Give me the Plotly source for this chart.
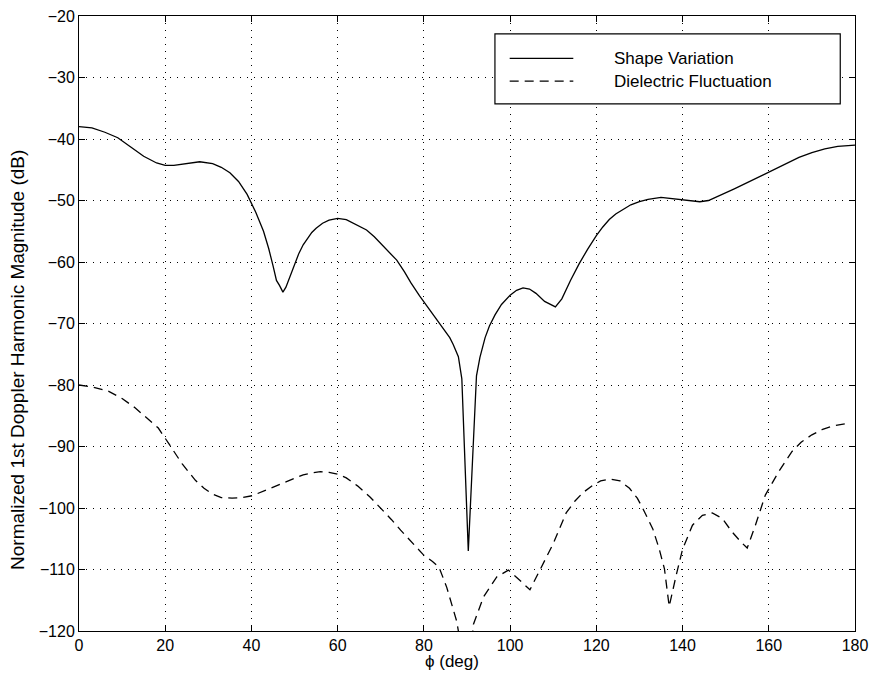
import plotly.graph_objects as go

# ---- data ----
series_names = ["Shape Variation", "Dielectric Fluctuation"]

shape_phi = [0, 3, 6, 9, 12, 15, 18, 20, 22, 25, 28, 31, 33, 35, 37, 39, 41, 42.8, 44,
             45, 45.8, 46.5, 47.3, 48, 49, 50, 51, 52, 53, 54, 55, 56.5, 58, 60, 62, 64,
             66.7, 68.5, 70, 72, 73.7, 75.5, 77, 79, 80.6, 82.5, 84.5, 86, 86.8, 88, 88.8,
             90.3, 92.2, 93, 94.2, 95.2, 96.5, 98, 100, 101.5, 103, 104.5, 106, 108, 110.5,
             112, 114, 116, 118, 120, 121.5, 123, 124.5, 126, 128, 130, 132, 135, 138, 141,
             144, 146, 149, 152, 155, 158, 161, 164, 167, 170, 173, 176, 180]
shape_db = [-38.0, -38.2, -38.9, -39.8, -41.3, -42.8, -43.9, -44.3, -44.3, -44.0, -43.7,
            -44.0, -44.6, -45.5, -46.9, -49.0, -51.9, -55.0, -57.8, -60.6, -63.0, -63.8,
            -64.9, -64.1, -62.2, -60.3, -58.6, -57.2, -56.1, -55.2, -54.5, -53.7, -53.2,
            -52.9, -53.1, -53.8, -54.8, -55.9, -57.0, -58.4, -59.7, -61.6, -63.4, -65.5,
            -67.1, -68.9, -70.8, -72.3, -73.4, -75.4, -79.0, -107.0, -78.5, -75.5, -72.3,
            -70.4, -68.6, -66.9, -65.4, -64.6, -64.2, -64.4, -65.1, -66.4, -67.3, -66.0,
            -63.0, -60.3, -57.9, -55.7, -54.3, -53.1, -52.2, -51.5, -50.7, -50.2, -49.8,
            -49.5, -49.7, -50.0, -50.2, -50.0, -49.1, -48.1, -47.1, -46.1, -45.0, -44.0,
            -43.0, -42.2, -41.6, -41.2, -41.0]

diel_phi = [0, 3, 6.8, 10, 13, 16, 18.4, 20.8, 23.9, 27, 29, 30.9, 33, 35.5, 38, 40.2, 44,
            47, 49.5, 52, 54, 56, 58, 60, 62, 64.6, 67.5, 70, 72.5, 74.6, 77.5, 80, 82,
            83.5, 85.3, 87.6, 89.5, 90.5, 91.5, 93.8, 96.9, 99.6, 102.3, 104.6, 106.9, 110,
            113, 115, 116.9, 119.2, 121, 123.1, 125.5, 127.7, 129.5, 130.8, 133.1, 134.6,
            135.8, 136.9, 138.5, 140, 142.3, 144.6, 146.9, 149.2, 151.5, 153.5, 155,
            156.9, 159.2, 162.3, 165.4, 167.5, 170, 172.5, 174.6, 178.5]
diel_db = [-80.0, -80.3, -81.0, -82.2, -83.7, -85.5, -87.0, -89.5, -92.8, -95.5, -96.8,
           -97.7, -98.3, -98.4, -98.3, -98.0, -96.9, -96.0, -95.2, -94.6, -94.3, -94.1,
           -94.2, -94.5, -95.1, -96.4, -98.2, -100.0, -101.9, -103.6, -105.8, -107.7,
           -108.7, -109.6, -112.9, -118.4, -126.0, -126.0, -118.9, -114.5, -111.2, -110.1,
           -111.8, -113.3, -110.1, -105.8, -100.8, -98.9, -97.5, -96.3, -95.6, -95.3,
           -95.6, -96.8, -98.4, -100.1, -103.4, -106.7, -109.9, -116.0, -111.0, -106.7,
           -102.8, -101.2, -100.8, -101.7, -103.9, -105.5, -106.5, -102.8, -97.9, -94.1,
           -90.8, -89.3, -88.1, -87.2, -86.7, -86.2]

x_ticks = [0, 20, 40, 60, 80, 100, 120, 140, 160, 180]
y_ticks = [-120, -110, -100, -90, -80, -70, -60, -50, -40, -30, -20]
x_title = "ϕ (deg)"
y_title = "Normalized 1st Doppler Harmonic Magnitude (dB)"

FONT = "Liberation Sans, Arial, Helvetica, sans-serif"
dashes = ["solid", "9px,6px"]

fig = go.Figure()
fig.add_trace(go.Scatter(x=shape_phi, y=shape_db, mode="lines", name=series_names[0],
                         line=dict(color="black", width=1.3, dash=dashes[0]),
                         showlegend=False))
fig.add_trace(go.Scatter(x=diel_phi, y=diel_db, mode="lines", name=series_names[1],
                         line=dict(color="black", width=1.3, dash=dashes[1]),
                         showlegend=False))

# manual legend box (MATLAB style)
fig.add_shape(type="rect", xref="paper", yref="paper", x0=0.536, x1=0.981, y0=0.857, y1=0.971,
              line=dict(color="black", width=1.2), fillcolor="white", layer="above")
leg_y = [0.931, 0.894]
for i, name in enumerate(series_names):
    fig.add_shape(type="line", xref="paper", yref="paper", x0=0.555, x1=0.637,
                  y0=leg_y[i], y1=leg_y[i], layer="above",
                  line=dict(color="black", width=1.3, dash=dashes[i]))
    fig.add_annotation(xref="paper", yref="paper", x=0.687, y=leg_y[i], text=name,
                       showarrow=False, xanchor="left", yanchor="middle",
                       font=dict(family=FONT, size=17, color="black"))

# axis titles placed as in the reference
fig.add_annotation(xref="paper", yref="paper", x=0.481, y=-0.0504, text=x_title,
                   showarrow=False, xanchor="center", yanchor="middle",
                   font=dict(family=FONT, size=17, color="black"))
fig.add_annotation(xref="paper", yref="paper", x=-0.0786, y=0.4407, text=y_title,
                   showarrow=False, xanchor="center", yanchor="middle", textangle=-90,
                   font=dict(family=FONT, size=19, color="black"))

axis_common = dict(
    showline=True, linecolor="black", linewidth=1, mirror="ticks",
    ticks="inside", ticklen=6, tickcolor="black", tickwidth=1,
    showgrid=True, gridcolor="black", gridwidth=1, griddash="1px,6px",
    zeroline=False, tickfont=dict(family=FONT, size=16, color="black"),
    automargin=False,
)

fig.update_xaxes(range=[0, 180], tickvals=x_ticks, **axis_common)
fig.update_yaxes(range=[-120, -20], tickvals=y_ticks, **axis_common)

fig.update_layout(
    width=871, height=675,
    margin=dict(l=79, r=16, t=16, b=44),
    paper_bgcolor="white", plot_bgcolor="white",
    font=dict(family=FONT, color="black"),
)

fig.write_html("out.html")
